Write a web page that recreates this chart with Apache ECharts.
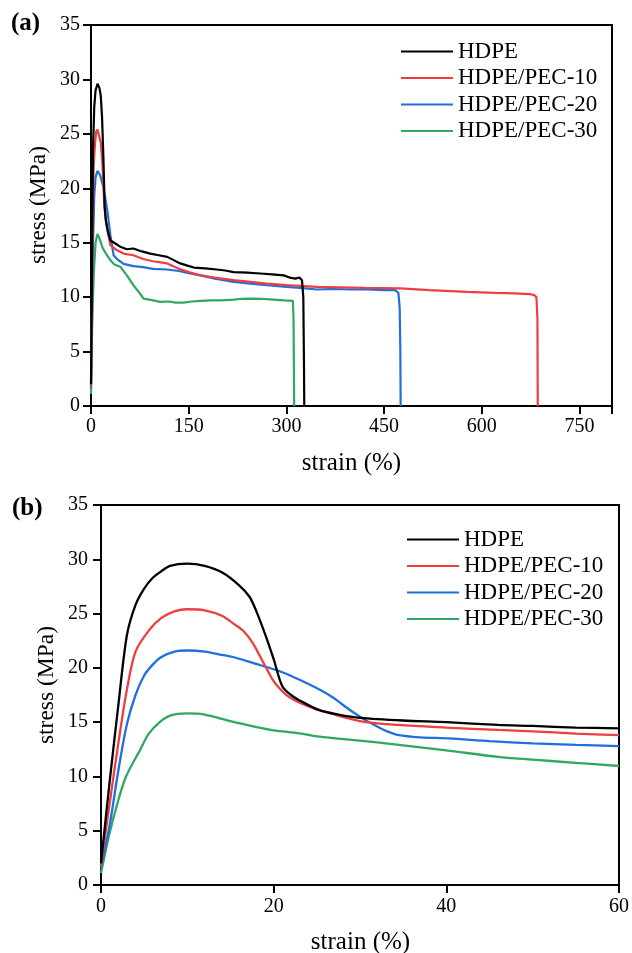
<!DOCTYPE html>
<html>
<head>
<meta charset="utf-8">
<script src="https://cdn.jsdelivr.net/npm/echarts@6/dist/echarts.min.js"></script>
<style>
html,body{margin:0;padding:0;background:#fff;}
#chart{width:632px;height:953px;}
</style>
</head>
<body>
<div id="chart"></div>
<script>
// ---------- DATA ----------
const seriesNames = ['HDPE', 'HDPE/PEC-10', 'HDPE/PEC-20', 'HDPE/PEC-30'];
const seriesColors = ['#000000', '#ef3d42', '#1f6fde', '#2fa862'];

// Panel (a): full strain range
const aStrainTicks = [0, 150, 300, 450, 600, 750];
const stressTicks = [0, 5, 10, 15, 20, 25, 30, 35];

const aStrain_HDPE = [0, 1, 2, 3, 5, 7, 10, 13, 15, 17, 19, 21, 23, 26, 30, 38, 46, 55, 65, 78, 91, 104, 117, 127, 137, 148, 158, 175, 193, 206, 219, 240, 260, 278, 296, 305, 314, 320, 324, 326, 327, 327.5];
const aStress_HDPE = [2, 9, 15.8, 23.5, 27.5, 29, 29.6, 29.2, 28.5, 26.5, 22.9, 18.3, 17, 16, 15.2, 14.9, 14.6, 14.4, 14.47, 14.2, 14.0, 13.85, 13.7, 13.4, 13.1, 12.9, 12.72, 12.65, 12.54, 12.45, 12.3, 12.25, 12.17, 12.1, 12.0, 11.8, 11.7, 11.8, 11.55, 10, 4, 0];

const aStrain_P10 = [0, 1, 2, 3, 4, 6, 8, 10, 12, 15, 17.6, 20, 22, 25, 30, 40, 50, 65, 80, 95, 117, 135, 150, 168, 190, 219, 245, 270, 300, 321, 347, 380, 420, 475, 520, 577, 620, 650, 674, 680, 684, 685.5, 686];
const aStress_P10 = [1.8, 7.5, 13, 18, 22, 24, 25.2, 25.4, 25.3, 24.2, 22.3, 18.9, 17.3, 16.2, 14.75, 14.3, 14.0, 13.85, 13.5, 13.3, 13.1, 12.6, 12.3, 12.0, 11.8, 11.56, 11.4, 11.25, 11.1, 11.03, 10.94, 10.9, 10.85, 10.8, 10.65, 10.48, 10.4, 10.35, 10.27, 10.2, 10.0, 8, 0];

const aStrain_P20 = [0, 1, 2, 3, 5, 7, 10, 14, 19, 25, 30, 34.7, 40, 50, 65, 80, 95, 117, 135, 150, 168, 190, 219, 245, 270, 300, 321, 347, 370, 400, 424, 450, 467, 472, 474, 475, 475.5];
const aStress_P20 = [1.6, 5.5, 10.5, 14.8, 19.3, 21, 21.6, 21.2, 20.1, 18, 15.6, 13.85, 13.5, 13.05, 12.85, 12.75, 12.6, 12.54, 12.4, 12.2, 12.0, 11.7, 11.4, 11.25, 11.1, 10.95, 10.85, 10.7, 10.75, 10.7, 10.7, 10.65, 10.64, 10.4, 9, 5, 0];

const aStrain_P30 = [0, 1, 2, 3, 4.5, 7, 10, 13, 18, 23, 29.6, 36, 45, 55, 65, 73, 80.8, 92, 106, 120, 130, 142, 155, 168, 185, 200, 219, 232, 245, 260, 275, 296, 310, 311, 312];
const aStress_P30 = [1.1, 4.8, 7.8, 10, 12.4, 15, 15.8, 15.4, 14.5, 14, 13.4, 13.0, 12.8, 12, 11.1, 10.5, 9.87, 9.75, 9.56, 9.6, 9.5, 9.5, 9.6, 9.65, 9.7, 9.7, 9.78, 9.85, 9.87, 9.85, 9.8, 9.7, 9.65, 8, 0];

// Panel (b): zoom 0-60 %
const bStrainTicks = [0, 20, 40, 60];

const bStrain_HDPE = [0, 1, 2, 3, 4, 5, 6, 7, 8, 10, 12, 14, 16, 17.2, 18, 19.1, 20, 21, 22, 23, 25.3, 27.5, 30, 35, 40, 46, 50, 55, 60];
const bStress_HDPE = [2, 9.5, 16.5, 23, 25.8, 27.3, 28.3, 28.9, 29.4, 29.6, 29.4, 28.8, 27.6, 26.55, 25.2, 22.9, 20.8, 18.3, 17.5, 17.0, 16.1, 15.7, 15.4, 15.15, 15.0, 14.74, 14.65, 14.5, 14.43];

const bStrain_P10 = [0, 1, 2, 3, 4, 5.6, 7, 8.5, 10, 12, 14, 15.3, 16.5, 17.6, 18.8, 19.9, 20.8, 21.8, 23, 25.3, 30, 34.5, 40, 46, 50, 55, 60];
const bStress_P10 = [1.8, 7.5, 13, 18, 21.5, 23.5, 24.6, 25.2, 25.4, 25.3, 24.8, 24.1, 23.4, 22.26, 20.5, 18.9, 18.0, 17.3, 16.8, 16.1, 15.1, 14.74, 14.5, 14.28, 14.15, 13.95, 13.8];

const bStrain_P20 = [0, 1, 2, 3, 4, 5, 6, 7, 8.5, 10, 12, 14, 15.3, 17, 19.1, 21, 23, 25.3, 27, 28.5, 30, 31.5, 33, 34.5, 37, 40.3, 45, 50, 55, 60];
const bStress_P20 = [1.6, 5.5, 10.5, 14.8, 17.5, 19.3, 20.3, 21.0, 21.5, 21.6, 21.5, 21.2, 21.0, 20.6, 20.1, 19.6, 18.9, 18.0, 17.2, 16.3, 15.5, 14.8, 14.2, 13.8, 13.6, 13.5, 13.25, 13.05, 12.9, 12.8];

const bStrain_P30 = [0, 1, 2, 2.9, 4.5, 5.5, 6.8, 8, 9.9, 12, 14, 16, 18, 20, 23, 25.3, 30, 34.5, 40, 46, 50, 55, 60];
const bStress_P30 = [1.1, 4.8, 7.8, 10.0, 12.4, 13.9, 15.0, 15.6, 15.8, 15.7, 15.3, 14.9, 14.55, 14.25, 13.97, 13.66, 13.3, 12.9, 12.4, 11.8, 11.55, 11.25, 10.96];

// ---------- BUILD ----------
const zip = (xs, ys) => xs.map((x, i) => [x, ys[i]]);
const aData = [
  zip(aStrain_HDPE, aStress_HDPE), zip(aStrain_P10, aStress_P10),
  zip(aStrain_P20, aStress_P20), zip(aStrain_P30, aStress_P30)
];
const bData = [
  zip(bStrain_HDPE, bStress_HDPE), zip(bStrain_P10, bStress_P10),
  zip(bStrain_P20, bStress_P20), zip(bStrain_P30, bStress_P30)
];

const FONT = 'Liberation Serif';

function makeAxis(grid, max, interval, tickList, margin) {
  return {
    type: 'value', gridIndex: grid, min: 0, max: max, interval: interval,
    axisLine: { show: true, onZero: false, lineStyle: { color: '#000', width: 2 } },
    axisTick: { show: true, inside: false, length: 8, lineStyle: { color: '#000', width: 2 } },
    splitLine: { show: false },
    axisLabel: {
      color: '#000', fontFamily: FONT, fontSize: 20, margin: margin,
      formatter: v => (tickList.indexOf(v) >= 0 ? String(v) : '')
    }
  };
}

const series = [];
seriesNames.forEach((n, i) => {
  series.push({
    name: n, type: 'line', xAxisIndex: 0, yAxisIndex: 0, data: aData[i],
    symbol: 'none', lineStyle: { color: seriesColors[i], width: 2.2 }, itemStyle: { color: seriesColors[i] },
    z: 10 - i
  });
});
seriesNames.forEach((n, i) => {
  series.push({
    name: n, type: 'line', xAxisIndex: 1, yAxisIndex: 1, data: bData[i],
    symbol: 'none', smooth: 0.3,
    lineStyle: { color: seriesColors[i], width: 2.3 }, itemStyle: { color: seriesColors[i] },
    z: 10 - i
  });
});

const legendCommon = {
  orient: 'vertical', itemWidth: 52, itemHeight: 14, itemGap: 3.5,
  icon: 'path://M0,0 L52,0 L52,2.2 L0,2.2 Z',
  textStyle: { color: '#000', fontFamily: FONT, fontSize: 23 },
  data: seriesNames.map((n, i) => ({ name: n, itemStyle: { color: seriesColors[i] } })),
  selectedMode: false
};

const option = {
  animation: false,
  backgroundColor: '#fff',
  grid: [
    { left: 91, top: 25, width: 521, height: 381, show: true, borderColor: '#000', borderWidth: 2, backgroundColor: 'transparent' },
    { left: 101, top: 505, width: 519, height: 380, show: true, borderColor: '#000', borderWidth: 2, backgroundColor: 'transparent' }
  ],
  xAxis: [makeAxis(0, 800, 150, aStrainTicks, 11), makeAxis(1, 60, 20, bStrainTicks, 12)],
  yAxis: [makeAxis(0, 35, 5, stressTicks, 11), makeAxis(1, 35, 5, stressTicks, 13)],
  legend: [
    Object.assign({}, legendCommon, { left: 396, top: 35 }),
    Object.assign({}, legendCommon, { left: 402, top: 523 })
  ],
  graphic: [
    { type: 'text', left: 11, top: 11, style: { text: '(a)', font: 'bold 25px "Liberation Serif"', fill: '#000' } },
    { type: 'text', left: 12, top: 496, style: { text: '(b)', font: 'bold 25px "Liberation Serif"', fill: '#000' } },
    { type: 'text', x: 351.5, y: 463, style: { text: 'strain (%)', font: '25px "Liberation Serif"', fill: '#000', align: 'center', verticalAlign: 'middle' } },
    { type: 'text', x: 360.5, y: 942, style: { text: 'strain (%)', font: '25px "Liberation Serif"', fill: '#000', align: 'center', verticalAlign: 'middle' } },
    { type: 'text', x: 39, y: 205, rotation: Math.PI / 2, style: { text: 'stress (MPa)', font: '23.5px "Liberation Serif"', fill: '#000', align: 'center', verticalAlign: 'middle' } },
    { type: 'text', x: 47, y: 685, rotation: Math.PI / 2, style: { text: 'stress (MPa)', font: '23.5px "Liberation Serif"', fill: '#000', align: 'center', verticalAlign: 'middle' } }
  ],
  series: series
};

const chart = echarts.init(document.getElementById('chart'), null, { renderer: 'canvas' });
chart.setOption(option);
</script>
</body>
</html>
